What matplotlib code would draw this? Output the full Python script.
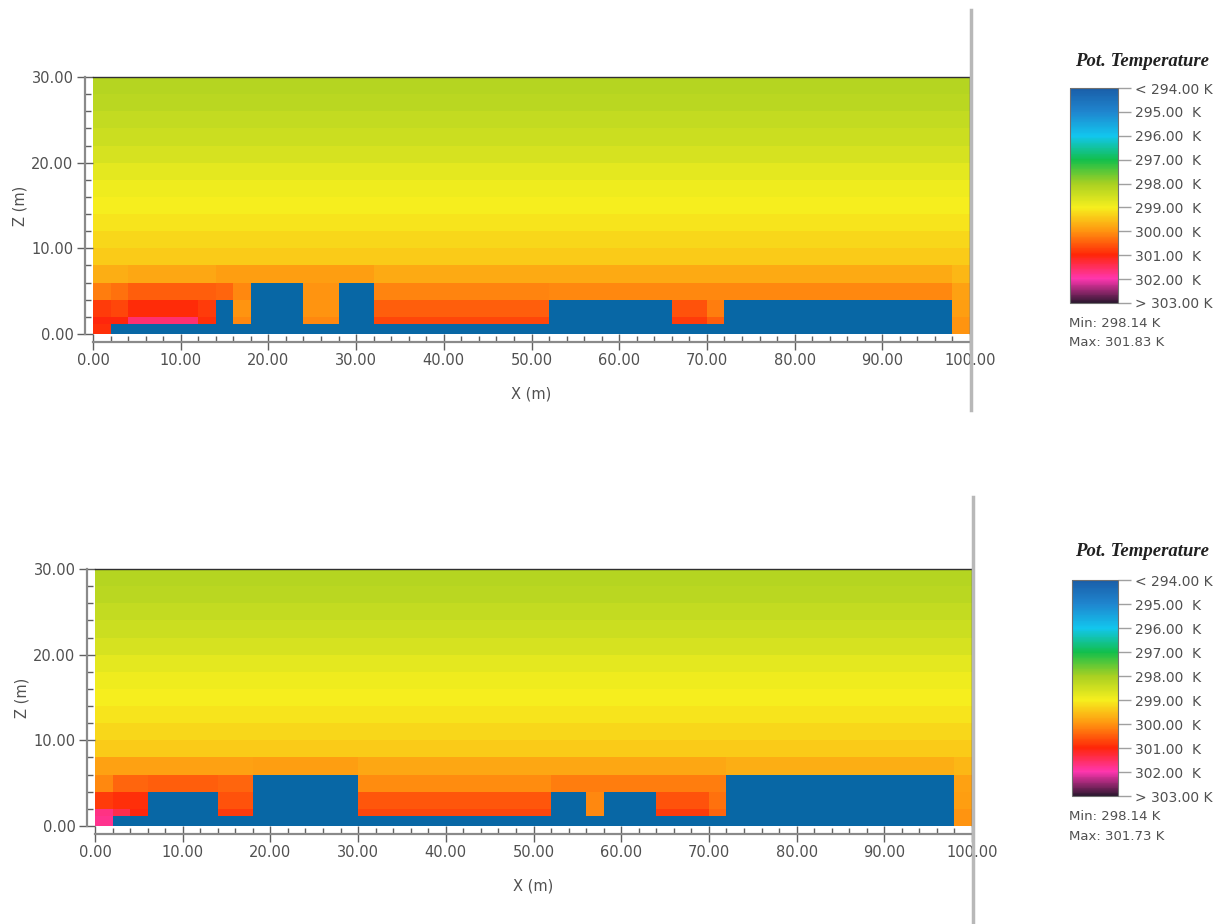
import numpy as np
import matplotlib
matplotlib.use('Agg')
import matplotlib.pyplot as plt
from matplotlib.colors import LinearSegmentedColormap, Normalize
from matplotlib.cm import ScalarMappable
from matplotlib.lines import Line2D

# grid of the section (m)
x_edges = np.arange(0, 101, 2)
z_edges = [0, 1.2, 2, 4, 6, 8, 10, 12, 14, 16, 18, 20, 22, 24, 26, 28, 30]

# legend
cbar_levels = [294, 295, 296, 297, 298, 299, 300, 301, 302, 303]
cbar_colors = ['#1a5ea8', '#1f86cf', '#12c6ee', '#12bf4c', '#a8d022',
               '#f6ef1e', '#ff9410', '#ff2608', '#ff36b0', '#2e1830']
cbar_labels = ['< 294.00 K', '295.00  K', '296.00  K', '297.00  K', '298.00  K',
               '299.00  K', '300.00  K', '301.00  K', '302.00  K', '> 303.00 K']

# rows from z=8 up to z=30, same along x
upper_profile = [299.40, 299.25, 299.10, 299.00, 298.90, 298.75,
                 298.60, 298.45, 298.35, 298.25, 298.15]

# case 1, lower rows (one value per 2 m column)
c1_r0 = [300.9] + [300.6] * 48 + [300.0]
c1_r1 = ([301.0, 301.0] + [301.6] * 4 + [300.9, 300.5, 300.1] + [300.1] * 3
         + [300.1] * 2 + [300.6] * 2 + [300.7] * 10 + [300.6] * 7
         + [300.8] * 2 + [300.5] + [300.3] * 13 + [300.0])
c1_r2 = ([300.8, 300.7] + [300.95] * 4 + [300.8, 300.4, 300.0] + [300.0] * 3
         + [300.0] * 2 + [300.5] * 2 + [300.5] * 10 + [300.5] * 7
         + [300.6] * 2 + [300.2] + [300.2] * 13 + [299.9])
c1_r3 = ([300.2, 300.3] + [300.5] * 5 + [300.4, 300.1] + [300.1] * 3
         + [300.0] * 2 + [300.1] * 2 + [300.15] * 10 + [300.1] * 23 + [299.85])
c1_r4 = [299.7] * 2 + [299.8] * 5 + [299.9] * 9 + [299.75] * 33 + [299.6]

# case 2, lower rows
c2_r0 = [301.8] + [300.6] * 48 + [300.0]
c2_r1 = ([301.7, 301.4, 301.0] + [300.9] * 4 + [300.8] * 2 + [300.7] * 6
         + [300.7] * 11 + [300.5] * 2 + [300.1] + [300.3] * 3
         + [300.8] * 3 + [300.4] + [300.3] * 13 + [300.0])
c2_r2 = ([300.8, 300.9, 300.9] + [300.9] * 4 + [300.6] * 2 + [300.5] * 6
         + [300.55] * 11 + [300.3] * 2 + [300.1] + [300.2] * 3
         + [300.6] * 3 + [300.3] + [300.2] * 13 + [299.9])
c2_r3 = ([300.1, 300.4, 300.4] + [300.5] * 4 + [300.4] * 2 + [300.2] * 6
         + [300.05] * 11 + [300.2] * 10 + [300.2] * 13 + [299.85])
c2_r4 = [299.85] * 9 + [299.9] * 6 + [299.8] * 21 + [299.7] * 13 + [299.6]

# buildings (left x, width, height)
c1_bx = [2, 14, 18, 28, 52, 72]
c1_bw = [96, 2, 6, 4, 14, 26]
c1_bh = [1.2, 4, 6, 6, 4, 4]
c2_bx = [2, 6, 18, 52, 58, 72]
c2_bw = [96, 8, 12, 4, 6, 26]
c2_bh = [1.2, 4, 6, 4, 4, 6]

c1_minmax = ['Min: 298.14 K', 'Max: 301.83 K']
c2_minmax = ['Min: 298.14 K', 'Max: 301.73 K']

cmap = LinearSegmentedColormap.from_list(
    'envi', [((v - 294) / 9.0, c) for v, c in zip(cbar_levels, cbar_colors)])
norm = Normalize(294, 303)
bld_color = '#0867a5'
txt = '#505050'

W, H = 1225, 924
fig = plt.figure(figsize=(W / 100, H / 100), dpi=100)


def fr(x0, y0, x1, y1):
    return [x0 / W, 1 - y1 / H, (x1 - x0) / W, (y1 - y0) / H]


def panel(box, cbox, rows, bx, bw, bh, minmax, ytitle, ymin, split):
    ax = fig.add_axes(fr(*box))
    field = np.array(rows + [[v] * 50 for v in upper_profile])
    ax.pcolormesh(x_edges, z_edges, field, cmap=cmap, norm=norm, shading='flat')
    ax.bar(bx, bh, width=bw, align='edge', color=bld_color, linewidth=0)
    ax.set_xlim(0, 100)
    ax.set_ylim(0, 30)
    ax.set_xticks(range(0, 101, 10))
    ax.set_xticks(range(0, 101, 2), minor=True)
    ax.set_yticks(range(0, 31, 10))
    ax.set_yticks(range(0, 31, 2), minor=True)
    ax.set_xticklabels(['%.2f' % v for v in range(0, 101, 10)])
    ax.set_yticklabels(['%.2f' % v for v in range(0, 31, 10)])
    for s in ['left', 'bottom']:
        ax.spines[s].set_position(('outward', 6))
        ax.spines[s].set_color('#8a8a8a')
        ax.spines[s].set_linewidth(1.6)
    for s in ['top', 'right']:
        ax.spines[s].set_color('#303030')
        ax.spines[s].set_linewidth(1.0)
    ax.tick_params(which='major', direction='inout', length=12, width=1,
                   color='#606060', labelsize=10.5, labelcolor=txt, pad=2)
    ax.tick_params(which='minor', direction='in', length=4, width=1,
                   color='#606060')
    ax.set_xlabel('X (m)', fontsize=10.5, color=txt, labelpad=13)
    ax.set_ylabel('Z (m)', fontsize=10.5, color=txt, labelpad=3)

    cax = fig.add_axes(fr(*cbox))
    cb = fig.colorbar(ScalarMappable(norm=norm, cmap=cmap), cax=cax)
    cax.invert_yaxis()
    cb.set_ticks(cbar_levels)
    cb.set_ticklabels(cbar_labels)
    cb.outline.set_edgecolor('#707070')
    cax.tick_params(length=9, width=1, color='#a0a0a0', labelsize=10,
                    labelcolor=txt, pad=3)
    fig.text(1142 / W, 1 - ytitle / H, 'Pot. Temperature', ha='center',
             va='center', fontsize=13.5, fontweight='bold', fontstyle='italic',
             family='Liberation Serif', color='#202020')
    fig.text(1069 / W, 1 - ymin / H, minmax[0], fontsize=9.5, color=txt,
             va='center')
    fig.text(1069 / W, 1 - (ymin + 20) / H, minmax[1], fontsize=9.5, color=txt,
             va='center')
    fig.add_artist(Line2D([split[0] / W] * 2, [1 - split[1] / H, 1 - split[2] / H],
                          color='#b8b8b8', lw=2.5))


panel((93, 77, 970, 334), (1070, 88, 1118, 303),
      [c1_r0, c1_r1, c1_r2, c1_r3, c1_r4], c1_bx, c1_bw, c1_bh,
      c1_minmax, 62, 323, (971, 10, 410))
panel((95, 569, 972, 826), (1072, 580, 1118, 796),
      [c2_r0, c2_r1, c2_r2, c2_r3, c2_r4], c2_bx, c2_bw, c2_bh,
      c2_minmax, 552, 817, (973, 497, 924))

fig.savefig('out.png', dpi=100)
